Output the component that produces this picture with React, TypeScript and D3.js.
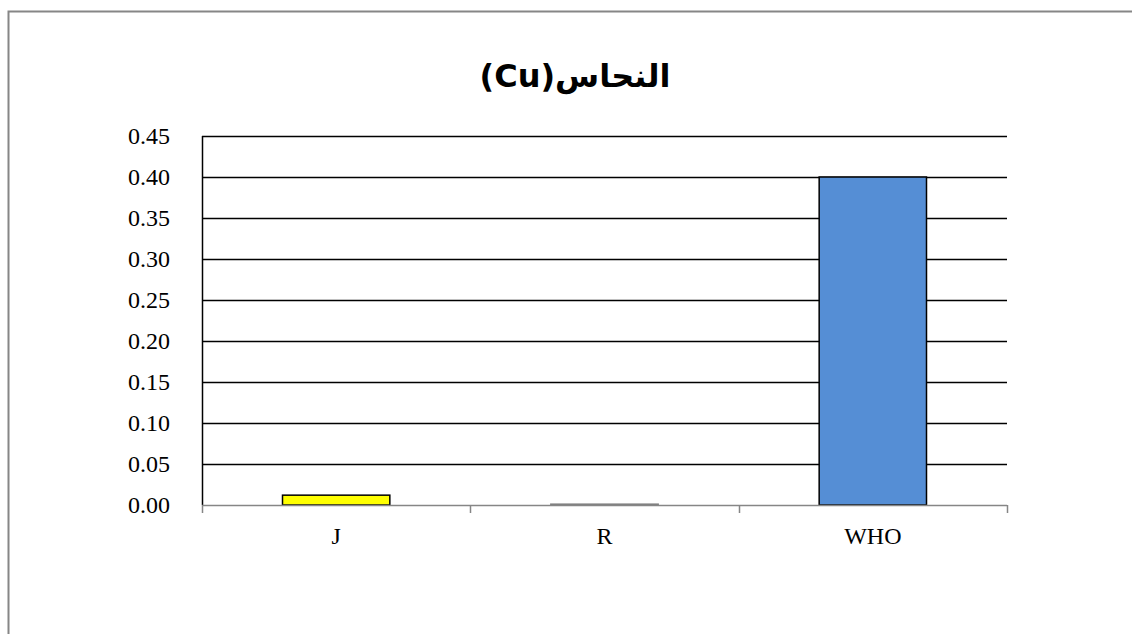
import * as d3 from "d3";
import { useEffect, useRef } from "react";

const categories = ["J", "R", "WHO"];
const values = [0.012, 0.001, 0.4];
const barColors = ["#ffff00", "#a6a6a6", "#558ed5"];
const yTicks = [0, 0.05, 0.1, 0.15, 0.2, 0.25, 0.3, 0.35, 0.4, 0.45];
const title = "النحاس(Cu)";

const W = 1132;
const H = 634;

const App = () => {
  const ref = useRef<SVGSVGElement | null>(null);

  useEffect(() => {
    const svg = d3.select(ref.current);
    svg.selectAll("*").remove();

    const left = 202;
    const right = 1007;
    const top = 136;
    const bottom = 505;

    // outer chart frame
    svg
      .append("rect")
      .attr("x", 8.5)
      .attr("y", 11.5)
      .attr("width", W + 20)
      .attr("height", H + 20)
      .attr("fill", "#fff")
      .attr("stroke", "#868686")
      .attr("stroke-width", 2);

    svg
      .append("text")
      .attr("x", 575)
      .attr("y", 87)
      .attr("text-anchor", "middle")
      .attr("font-family", "'DejaVu Sans', sans-serif")
      .attr("font-weight", "bold")
      .attr("font-size", 32)
      .attr("direction", "rtl")
      .text(title);

    const x = d3.scaleBand().domain(categories).range([left, right]).padding(0);
    const y = d3.scaleLinear().domain([0, 0.45]).range([bottom, top]);

    // gridlines
    svg
      .append("g")
      .selectAll("line")
      .data(yTicks.filter((t) => t > 0))
      .join("line")
      .attr("x1", left)
      .attr("x2", right)
      .attr("y1", (d) => Math.round(y(d)) + 0.5)
      .attr("y2", (d) => Math.round(y(d)) + 0.5)
      .attr("stroke", "#000")
      .attr("stroke-width", 1.5);

    // y tick labels
    svg
      .append("g")
      .selectAll("text")
      .data(yTicks)
      .join("text")
      .attr("x", left - 32)
      .attr("y", (d) => y(d))
      .attr("dy", "0.33em")
      .attr("text-anchor", "end")
      .attr("font-family", "'Liberation Serif', serif")
      .attr("font-size", 24)
      .attr("fill", "#000")
      .text((d) => d.toFixed(2));

    // bars
    const barW = x.bandwidth() * 0.4;
    svg
      .append("g")
      .selectAll("rect")
      .data(values)
      .join("rect")
      .attr("x", (_, i) => (x(categories[i]) ?? 0) + (x.bandwidth() - barW) / 2)
      .attr("y", (d) => y(d))
      .attr("width", barW)
      .attr("height", (d) => bottom - y(d))
      .attr("fill", (_, i) => barColors[i])
      .attr("stroke", (_, i) => (i === 1 ? "#7f7f7f" : "#000"))
      .attr("stroke-width", 1.5);

    // y axis line
    svg
      .append("line")
      .attr("x1", left + 0.5)
      .attr("x2", left + 0.5)
      .attr("y1", top)
      .attr("y2", bottom)
      .attr("stroke", "#000")
      .attr("stroke-width", 1.5);

    // x axis
    svg
      .append("line")
      .attr("x1", left)
      .attr("x2", right)
      .attr("y1", bottom + 0.5)
      .attr("y2", bottom + 0.5)
      .attr("stroke", "#868686")
      .attr("stroke-width", 1.5);

    const tickXs = categories.map((c) => x(c) ?? 0).concat([right]);
    svg
      .append("g")
      .selectAll("line")
      .data(tickXs)
      .join("line")
      .attr("x1", (d) => Math.round(d) + 0.5)
      .attr("x2", (d) => Math.round(d) + 0.5)
      .attr("y1", bottom)
      .attr("y2", bottom + 8)
      .attr("stroke", "#868686")
      .attr("stroke-width", 1.5);

    svg
      .append("g")
      .selectAll("text")
      .data(categories)
      .join("text")
      .attr("x", (d) => (x(d) ?? 0) + x.bandwidth() / 2)
      .attr("y", 544)
      .attr("text-anchor", "middle")
      .attr("font-family", "'Liberation Serif', serif")
      .attr("font-size", 24)
      .attr("fill", "#000")
      .text((d) => d);
  }, []);

  return (
    <svg
      ref={ref}
      width={W}
      height={H}
      style={{ position: "absolute", left: 0, top: 0, background: "#fff" }}
    ></svg>
  );
};

export default App;
